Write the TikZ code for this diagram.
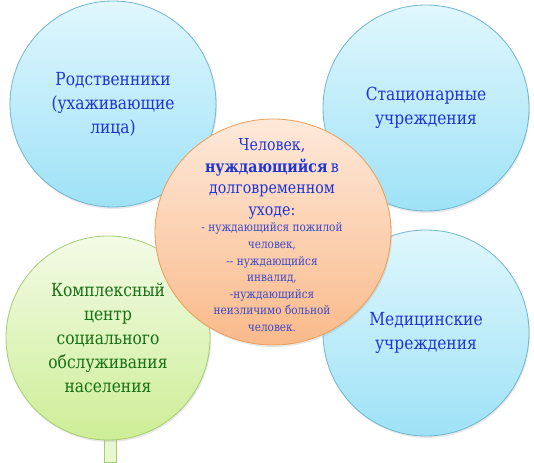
\documentclass[tikz,border=0pt]{standalone}
\usepackage{fontspec}
\setmainfont{DejaVu Serif}[FakeStretch=0.86]
\usepackage{tikz}
\usetikzlibrary{shapes.geometric,shadows}
\definecolor{bluetop}{RGB}{224,247,253}
\definecolor{bluebot}{RGB}{158,226,247}
\definecolor{blueline}{RGB}{112,182,206}
\definecolor{greentop}{RGB}{243,251,230}
\definecolor{greenbot}{RGB}{205,238,150}
\definecolor{greenline}{RGB}{165,204,115}
\definecolor{orangetop}{RGB}{253,233,218}
\definecolor{orangebot}{RGB}{250,186,138}
\definecolor{orangeline}{RGB}{238,158,88}
\definecolor{txtblue}{RGB}{32,52,210}
\definecolor{smallblue}{RGB}{62,72,198}
\definecolor{txtgreen}{RGB}{22,112,22}
\tikzset{
	shade/.style={drop shadow={opacity=.18,shadow xshift=1pt,shadow yshift=-2pt}},
	bcirc/.style={circle,draw=blueline,thick,top color=bluetop,bottom color=bluebot,minimum size=206pt,inner sep=0pt,shade,
		align=center,text=txtblue,font=\fontsize{18}{24}\selectfont},
	gcirc/.style={circle,draw=greenline,thick,top color=greentop,bottom color=greenbot,minimum size=204pt,inner sep=0pt,shade,
		align=center,text=txtgreen,font=\fontsize{18}{23.8}\selectfont},
	ocirc/.style={ellipse,draw=orangeline,thick,top color=orangetop,bottom color=orangebot,minimum width=236pt,minimum height=226pt,shade},
	otext/.style={text width=180pt,align=center,inner sep=0pt,text=txtblue}
}
\begin{document}
\begin{tikzpicture}[x=1pt,y=-1pt]
	\useasboundingbox (0,0) rectangle (534,462);

	\node [bcirc] (rel) at (113,104) {Родственники\\(ухаживающие\\лица)};
	\node [bcirc] (stat) at (426,108) {Стационарные\\учреждения};
	\node [bcirc] (med) at (426,333) {Медицинские\\учреждения};

	\node [draw=greenline,fill=greentop!70!greenbot,minimum width=12pt,minimum height=28pt,inner sep=0pt] (stem) at (110,448) {};
	\node [gcirc] (kcso) at (108,338) {Комплексный\\центр\\социального\\обслуживания\\населения};

	\node [ocirc] (man) at (273,232) {};
	\node [otext] (mantext) at (272,235) {\fontsize{16.5}{21.6}\selectfont Человек,\\
		\textbf{нуждающийся} в\\ долговременном\\ уходе:\par
		\color{smallblue}\fontsize{12.2}{16.6}\selectfont - нуждающийся пожилой\\ человек,\\
		{-}{-} нуждающийся\\ инвалид,\\ -нуждающийся\\ неизличимо больной\\ человек.\par};
\end{tikzpicture}
\end{document}
